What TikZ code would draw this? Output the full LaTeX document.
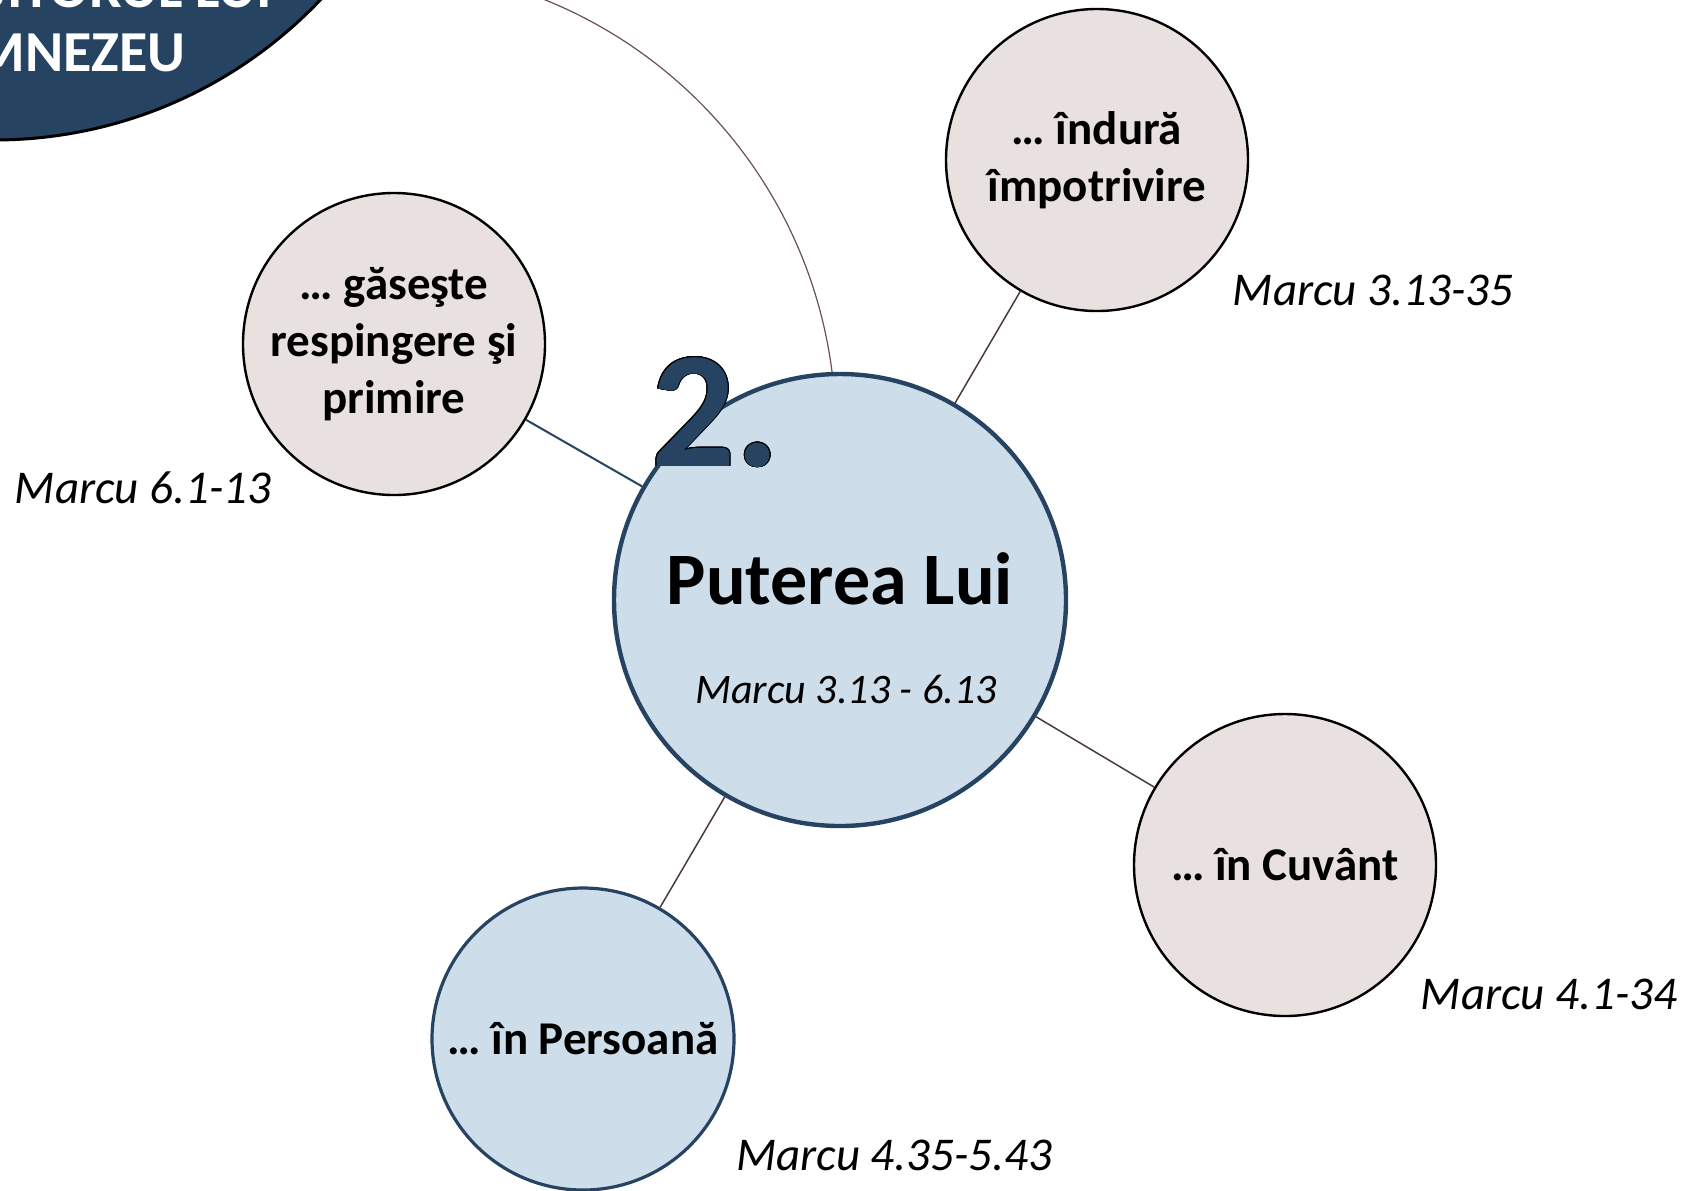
\documentclass[tikz,border=0pt]{standalone}
\usepackage{fontspec}
\setmainfont{Carlito}
\usepackage{contour}
\contourlength{0.4pt}

\definecolor{navy}{HTML}{264461}
\definecolor{paleblue}{HTML}{CDDDEA}
\definecolor{palerose}{HTML}{E9E0E0}
\definecolor{linkbrown}{HTML}{4A3B3B}
\definecolor{arcbrown}{HTML}{6A5050}

\begin{document}
\begin{tikzpicture}[x=0.5pt, y=-0.5pt,
  topic/.style={circle, draw=black, line width=1.2pt, fill=palerose, inner sep=0pt, minimum size=151pt, align=center, font=\fontsize{23.5}{28.5}\selectfont\bfseries},
  keytopic/.style={topic, draw=navy, line width=1.6pt, fill=paleblue},
  hub/.style={circle, draw=navy, line width=2.2pt, fill=paleblue, inner sep=0pt, minimum size=226pt},
  verse/.style={anchor=base, inner sep=0pt, font=\fontsize{23.5}{28}\selectfont\itshape},
  link/.style={draw=linkbrown, line width=0.75pt}
]
\useasboundingbox (0,0) rectangle (1700,1190);
\clip (0,0) rectangle (1700,1190);

% Part 2 of the outline and its four sub-themes.
\node[circle, draw=black, line width=1.5pt, fill=navy, minimum size=450pt] (slujitorul) at (-6,-310) {};
\node[anchor=west, align=left, inner sep=0pt, text=white, font=\fontsize{29}{32}\selectfont\bfseries] (slujitorultxt) at (-100,21) {SLUJITORUL LUI\\DUMNEZEU};

\node[hub] (puterea) at (840,600) {};
\node[anchor=base, inner sep=0pt, font=\fontsize{37}{40}\selectfont\bfseries] (putereatitlu) at (840,604) {Puterea Lui};
\node[verse, font=\fontsize{21}{24}\selectfont\itshape] (putereaverset) at (846,703) {Marcu 3.13 - 6.13};

\node[topic] (gaseste) at (394,344) {… găseşte\\respingere şi\\primire};
\node[topic] (indura) at (1097,160) {… îndură\\împotrivire};
\node[topic] (cuvant) at (1285,865) {… în Cuvânt};
\node[keytopic] (persoana) at (583,1039) {… în Persoană};

\node[verse] (gasesteref) at (143,503) {Marcu 6.1-13};
\node[verse] (indurarref) at (1373,305) {Marcu 3.13-35};
\node[verse] (cuvantref) at (1549,1009) {Marcu 4.1-34};
\node[verse] (persoanaref) at (894,1170) {Marcu 4.35-5.43};

\draw[link, draw=navy, line width=1pt] (gaseste) -- (puterea);
\draw[link] (indura) -- (puterea);
\draw[link] (cuvant) -- (puterea);
\draw[link] (persoana) -- (puterea);
\draw[link, draw=arcbrown, line width=0.6pt] (puterea.92.5) arc[start angle=-7.3, end angle=-80, radius=465];

\node[anchor=base west, inner sep=0pt, text=navy, font=\fontsize{83}{90}\selectfont\bfseries] (numar) at (651,466) {\contour{black}{2.}};
\end{tikzpicture}
\end{document}
